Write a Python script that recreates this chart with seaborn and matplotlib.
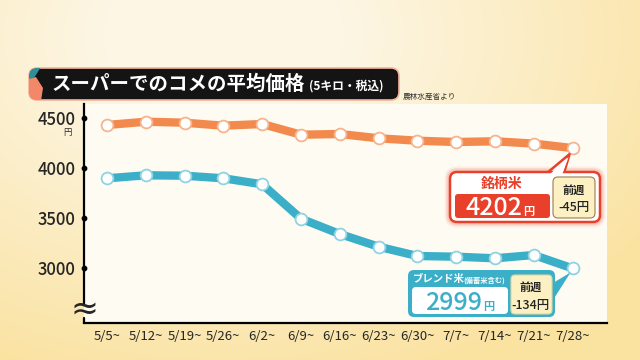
import numpy as np
import pandas as pd
import matplotlib.pyplot as plt
import seaborn as sns
from matplotlib.patches import FancyBboxPatch, Polygon

# data (yen per 5kg, tax incl.)
weeks = ['5/5~', '5/12~', '5/19~', '5/26~', '6/2~', '6/9~', '6/16~',
         '6/23~', '6/30~', '7/7~', '7/14~', '7/21~', '7/28~']
brand_rice = [4433, 4466, 4456, 4426, 4443, 4336, 4343, 4300, 4276, 4263, 4270, 4247, 4202]
blend_rice = [3900, 3930, 3926, 3900, 3840, 3496, 3343, 3216, 3123, 3116, 3100, 3133, 2999]
yticks = [3000, 3500, 4000, 4500]

orange = '#f28a4e'
teal = '#3bafc8'
red = '#e8402a'

sns.set_style('white')
plt.rcParams['font.family'] = ['Noto Sans CJK JP', 'DejaVu Sans']

fig = plt.figure(figsize=(6.4, 3.6), dpi=100)

# warm background gradient
bg = fig.add_axes([0, 0, 1, 1], zorder=-10)
yy, xx = np.mgrid[0:1:360j, 0:1:640j]
t = np.clip(1.6 * np.hypot(xx - 0.35, (yy - 0.1) * 0.8) - 0.3, 0, 1)[..., None]
light = np.array([253, 246, 228]) / 255
yellow = np.array([250, 226, 160]) / 255
bg.imshow(light * (1 - t) + yellow * t, extent=[0, 640, 360, 0], aspect='auto')
bg.axis('off')

# main chart
ax = fig.add_axes([84 / 640, 1 - 323 / 360, (607 - 84) / 640, (323 - 104) / 360])
ax.set_facecolor('#fefbf3')

df = pd.DataFrame({'week': range(len(weeks)), 'brand': brand_rice, 'blend': blend_rice})
line_kw = dict(lw=6, marker='o', ms=8.5, mfc='white', mew=1.3,
               solid_joinstyle='round', solid_capstyle='round')
sns.lineplot(data=df, x='week', y='brand', ax=ax, color=orange, mec='#f7b48c', **line_kw)
sns.lineplot(data=df, x='week', y='blend', ax=ax, color=teal, mec='#8fd3e2', **line_kw)

xmin, xmax = -0.593, 12.887
ax.set_xlim(xmin, xmax)
ax.set_ylim(2453, 4643)
ax.set_xticks(range(len(weeks)), weeks)
ax.set_yticks(yticks, [str(v) for v in yticks])
ax.set_xlabel('')
ax.set_ylabel('')
ax.tick_params(axis='x', length=0, labelsize=9.5, pad=5)
ax.tick_params(axis='y', length=0, labelsize=12, pad=6)
for lab in ax.get_yticklabels():
    lab.set_fontweight('medium')

for s in ['top', 'right']:
    ax.spines[s].set_visible(False)
for s in ['left', 'bottom']:
    ax.spines[s].set_color('black')
    ax.spines[s].set_linewidth(1.6)
ax.spines['left'].set_bounds(2653, 4643)
ax.plot([0, 0], [0, 0.025], transform=ax.transAxes, color='black', lw=1.6, clip_on=False)
ax.scatter(np.full(len(yticks), xmin), yticks, s=10, color='black', clip_on=False, zorder=5)
ax.annotate('円', (xmin, yticks[-1]), xytext=(-17, -14), textcoords='offset pixels',
            fontsize=6, ha='center', va='center')

# overlay in pixel coordinates for title and callouts
ov = fig.add_axes([0, 0, 1, 1], zorder=10)
ov.set_xlim(0, 640)
ov.set_ylim(360, 0)
ov.axis('off')
ov.patch.set_alpha(0)

ov.text(84, 309, '≈', family='DejaVu Sans', fontsize=24, ha='center', va='center')

title_box = FancyBboxPatch((29, 68), 370, 32, boxstyle='round,pad=0,rounding_size=8',
                           fc='#141414', ec='#f3b49c', lw=1.2)
ov.add_patch(title_box)
salmon = Polygon([(27, 79), (36, 77), (43, 88), (41, 101), (27, 101)], closed=True,
                 fc='#f2876a', ec='none')
teal_tri = Polygon([(27, 67), (41, 67), (34, 78), (27, 79)], closed=True, fc='#2f8f99', ec='none')
for p in (salmon, teal_tri):
    ov.add_patch(p)
    p.set_clip_path(title_box)
ov.text(52, 84, 'スーパーでのコメの平均価格', color='white', fontsize=14,
        fontweight='bold', va='center')
ov.text(309, 86, '(5キロ・税込)', color='white', fontsize=8.5, fontweight='bold', va='center')
ov.text(403, 97, '農林水産省より', color='#333333', fontsize=5.5, va='center')

# tail tips from the last data points
def to_px(x, y):
    px, py = ax.transData.transform((x, y))
    return px, 360 - py

bx, by = to_px(len(weeks) - 1, brand_rice[-1])
lx, ly = to_px(len(weeks) - 1, blend_rice[-1])

# brand rice callout
for pad, a in [(4, 0.15), (2.5, 0.25), (1.2, 0.4)]:
    ov.add_patch(FancyBboxPatch((450 - pad, 172 - pad), 150 + 2 * pad, 50 + 2 * pad,
                                boxstyle=f'round,pad=0,rounding_size={7 + pad}',
                                fc='none', ec='#f59a88', lw=2, alpha=a))
ov.add_patch(Polygon([(547, 173), (564, 173), (bx - 3, by + 6)], closed=True,
                     fc='white', ec=red, lw=1.8, joinstyle='round'))
ov.add_patch(FancyBboxPatch((450, 172), 150, 50, boxstyle='round,pad=0,rounding_size=7',
                            fc='white', ec=red, lw=1.8))
ov.add_patch(Polygon([(549, 175), (562, 175), (bx - 4, by + 9)], closed=True,
                     fc='white', ec='none'))
ov.add_patch(FancyBboxPatch((455, 194), 95, 24, boxstyle='round,pad=0,rounding_size=3',
                            fc=red, ec='none'))
ov.add_patch(FancyBboxPatch((553, 177), 42, 41, boxstyle='round,pad=0,rounding_size=5',
                            fc='#fdf1c4', ec='#9a7d4e', lw=0.8))
ov.text(502, 184, '銘柄米', color=red, fontsize=10, fontweight='bold', ha='center', va='center')
ov.text(522, 215, f'{brand_rice[-1]}', color='white', fontsize=18, fontweight='medium',
        ha='right', va='baseline')
ov.text(523, 215, '円', color='white', fontsize=8, fontweight='bold', ha='left', va='baseline')
ov.text(574, 190, '前週', color='#222222', fontsize=8, fontweight='bold', ha='center', va='center')
ov.text(574, 207, f'-{brand_rice[-2] - brand_rice[-1]}円', color='#222222', fontsize=9,
        fontweight='medium', ha='center', va='center')

# blend rice callout
ov.add_patch(Polygon([(553, 283), (553, 300), (lx - 2, ly + 4)], closed=True, fc=teal, ec='none'))
ov.add_patch(FancyBboxPatch((408, 270), 147, 47, boxstyle='round,pad=0,rounding_size=6',
                            fc=teal, ec='none'))
ov.add_patch(FancyBboxPatch((412, 287), 96, 27, boxstyle='round,pad=0,rounding_size=4',
                            fc='white', ec='none'))
ov.add_patch(FancyBboxPatch((511, 275), 41, 39, boxstyle='round,pad=0,rounding_size=4',
                            fc='#fdf1c4', ec='#e4d49a', lw=0.8))
ov.text(413, 279, 'ブレンド米', color='white', fontsize=7.5, fontweight='bold', va='center')
ov.text(463, 280, '(備蓄米含む)', color='white', fontsize=5.2, fontweight='bold', va='center')
ov.text(482, 310, f'{blend_rice[-1]}', color=teal, fontsize=18, fontweight='medium',
        ha='right', va='baseline')
ov.text(483, 310, '円', color=teal, fontsize=8, fontweight='bold', ha='left', va='baseline')
ov.text(531, 287, '前週', color='#222222', fontsize=8, fontweight='bold', ha='center', va='center')
ov.text(531, 305, f'-{blend_rice[-2] - blend_rice[-1]}円', color='#222222', fontsize=9,
        fontweight='medium', ha='center', va='center')

fig.savefig('out.png', dpi=100)
